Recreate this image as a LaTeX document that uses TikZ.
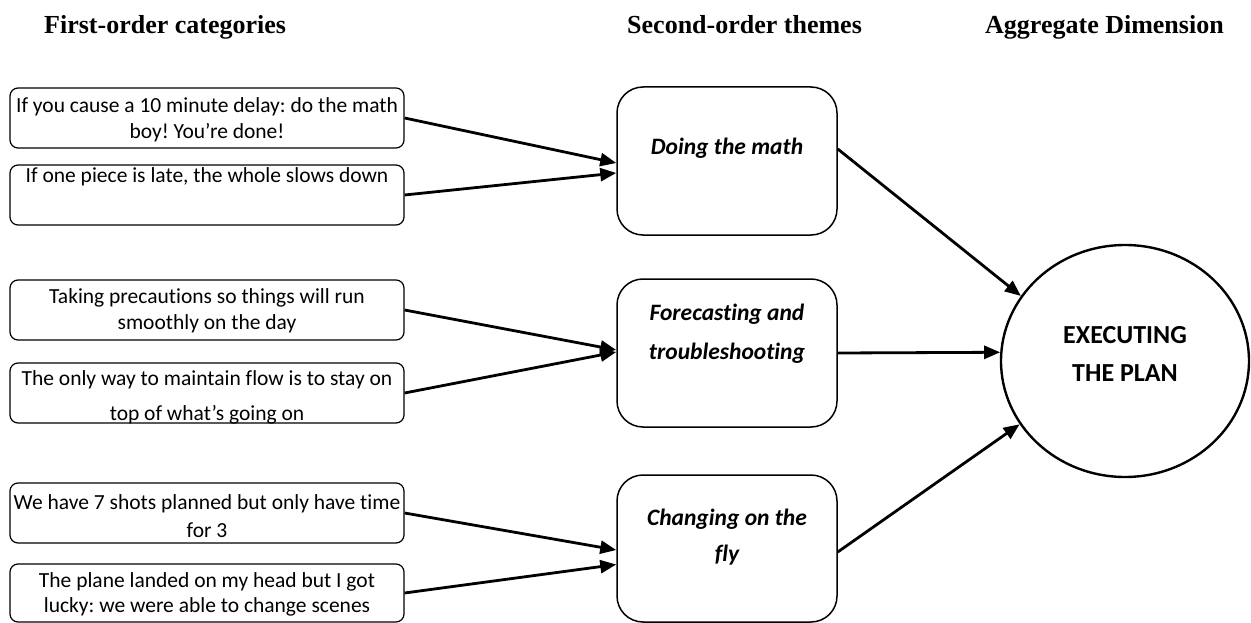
\documentclass[tikz,border=0pt]{standalone}
\usepackage{fontspec}
\setmainfont{Liberation Serif}
\newfontfamily\boxfont[Ligatures=NoCommon]{Carlito}
\usetikzlibrary{arrows.meta,shapes.geometric,calc}
\frenchspacing

\tikzset{
  head/.style={font=\fontsize{26}{30}\selectfont\bfseries, inner sep=0pt},
  catbox/.style={draw, rounded corners=8pt, line width=1.2pt,
    minimum width=394pt, minimum height=60pt, inner sep=0pt},
  cattext/.style={font=\boxfont\fontsize{21.5}{26}\selectfont, align=center, inner sep=0pt},
  themebox/.style={draw, rounded corners=26pt, line width=1.5pt,
    minimum width=220pt, minimum height=148pt, inner sep=0pt},
  themetext/.style={font=\boxfont\bfseries\itshape\fontsize{23.5}{36}\selectfont,
    align=center, inner sep=0pt},
  dimension/.style={draw, ellipse, line width=2.4pt,
    minimum width=248pt, minimum height=232pt, inner sep=0pt},
  dimtext/.style={font=\boxfont\bfseries\fontsize{26}{38}\selectfont,
    align=center, inner sep=0pt},
  link/.style={line width=2.8pt, -{Triangle[length=16pt,width=13pt]}}
}

\begin{document}
\begin{tikzpicture}[x=1pt,y=-1pt]
\useasboundingbox (0,0) rectangle (1251,623);

% column headings
\node[head, anchor=base west] (h1) at (44,34) {First-order categories};
\node[head, anchor=base west] (h2) at (627,34) {Second-order themes};
\node[head, anchor=base west] (h3) at (985,34) {Aggregate Dimension};

% first-order categories
\node[catbox] (f1) at (207,118) {};
\node[catbox] (f2) at (207,195) {};
\node[catbox] (f3) at (207,310) {};
\node[catbox] (f4) at (207,393) {};
\node[catbox] (f5) at (207,513) {};
\node[catbox, minimum height=58pt] (f6) at (207,593) {};

\node[cattext] (f1t) at (207,119.5) {If you cause a 10 minute delay: do the math\\boy! You’re done!};
\node[cattext] (f2t) at (207,177) {If one piece is late, the whole slows down};
\node[cattext] (f3t) at (207,310.5) {Taking precautions so things will run\\smoothly on the day};
\node[cattext, font=\boxfont\fontsize{21.5}{35}\selectfont] (f4t) at (207,397.5) {The only way to maintain flow is to stay on\\top of what’s going on};
\node[cattext, font=\boxfont\fontsize{21.5}{28}\selectfont] (f5t) at (207,516) {We have 7 shots planned but only have time\\for 3};
\node[cattext, font=\boxfont\fontsize{21.5}{25}\selectfont] (f6t) at (207,594.5) {The plane landed on my head but I got\\lucky: we were able to change scenes};

% second-order themes
\node[themebox] (s1) at (727,161) {};
\node[themebox] (s2) at (727,353) {};
\node[themebox, minimum height=147pt] (s3) at (727,548.5) {};

\node[themetext] (s1t) at (727,148) {Doing the math};
\node[themetext, font=\boxfont\bfseries\itshape\fontsize{23.5}{39}\selectfont] (s2t) at (727,334) {Forecasting and\\troubleshooting};
\node[themetext] (s3t) at (727,537.5) {Changing on the\\fly};

% aggregate dimension
\node[dimension] (agg) at (1125,361) {};
\node[dimtext] (aggt) at (1125,354) {EXECUTING\\THE PLAN};

% connectors
\draw[link] (f1.east) -- ($(s1.west)+(0,2)$);
\draw[link] (f2.east) -- ($(s1.west)+(0,12)$);
\draw[link] (f3.east) -- ($(s2.west)+(0,-3)$);
\draw[link] (f4.east) -- ($(s2.west)+(0,-1)$);
\draw[link] (f5.east) -- ($(s3.west)+(0,1.5)$);
\draw[link] (f6.east) -- ($(s3.west)+(0,16)$);

\draw[link] ($(s1.east)+(0,-12)$) -- (agg.148.6);
\draw[link] (s2.east) -- (agg.176);
\draw[link] ($(s3.east)+(0,3.5)$) -- (agg.211.4);
\end{tikzpicture}
\end{document}
